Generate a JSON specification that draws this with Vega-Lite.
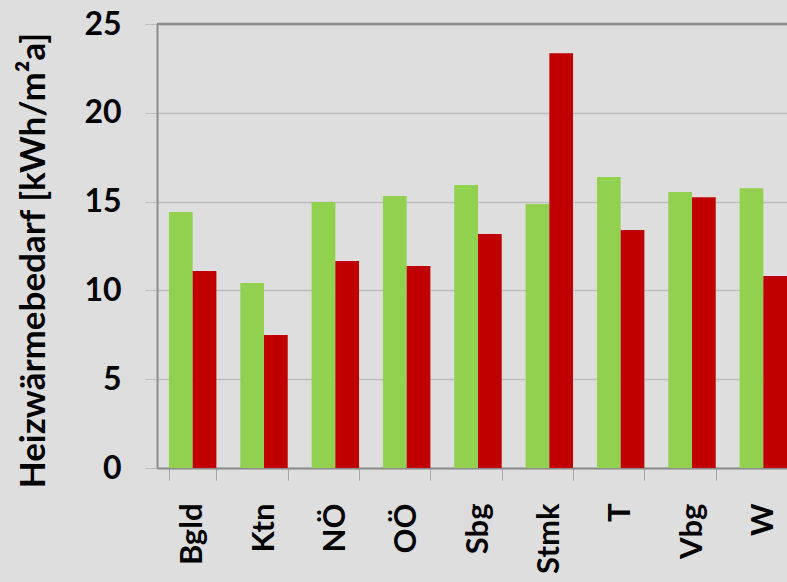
{
  "$schema": "https://vega.github.io/schema/vega-lite/v6.json",
  "width": 630,
  "height": 444,
  "autosize": "none",
  "padding": {"left": 157, "top": 24, "right": 0, "bottom": 114},
  "background": "#dedede",
  "config": {"view": {"stroke": null}, "font": "Lato"},
  "layer": [
    {
      "data": {
        "values": [
          {"region": "Bgld", "series": "Serie 1", "value": 14.41},
          {"region": "Bgld", "series": "Serie 2", "value": 11.09},
          {"region": "Ktn", "series": "Serie 1", "value": 10.42},
          {"region": "Ktn", "series": "Serie 2", "value": 7.49},
          {"region": "NÖ", "series": "Serie 1", "value": 14.98},
          {"region": "NÖ", "series": "Serie 2", "value": 11.66},
          {"region": "OÖ", "series": "Serie 1", "value": 15.32},
          {"region": "OÖ", "series": "Serie 2", "value": 11.37},
          {"region": "Sbg", "series": "Serie 1", "value": 15.93},
          {"region": "Sbg", "series": "Serie 2", "value": 13.18},
          {"region": "Stmk", "series": "Serie 1", "value": 14.86},
          {"region": "Stmk", "series": "Serie 2", "value": 23.35},
          {"region": "T", "series": "Serie 1", "value": 16.38},
          {"region": "T", "series": "Serie 2", "value": 13.4},
          {"region": "Vbg", "series": "Serie 1", "value": 15.54},
          {"region": "Vbg", "series": "Serie 2", "value": 15.24},
          {"region": "W", "series": "Serie 1", "value": 15.75},
          {"region": "W", "series": "Serie 2", "value": 10.81}
        ]
      },
      "mark": {"type": "bar"},
      "encoding": {
        "x": {
          "field": "region",
          "type": "nominal",
          "sort": null,
          "scale": {"paddingInner": 0.335, "paddingOuter": 0.1675, "range": [0, 642]},
          "axis": {
            "title": null,
            "labelAngle": -90,
            "labelAlign": "right",
            "labelBaseline": "middle",
            "labelFont": "Lato",
            "labelFontSize": 31,
            "labelFontWeight": "bold",
            "labelColor": "#000000",
            "labelPadding": 23,
            "tickBand": "extent",
            "tickSize": 12,
            "tickColor": "#a6a6a6",
            "tickWidth": 1,
            "domainColor": "#8c8c8c",
            "domainWidth": 2,
            "grid": false
          }
        },
        "xOffset": {"field": "series", "type": "nominal", "sort": ["Serie 1", "Serie 2"]},
        "y": {
          "field": "value",
          "type": "quantitative",
          "scale": {"domain": [0, 25], "nice": false},
          "axis": {
            "title": "Heizwärmebedarf [kWh/m²a]",
            "titleFont": "Lato",
            "titleFontSize": 35,
            "titleFontWeight": "bold",
            "titleColor": "#000000",
            "titlePadding": 32,
            "titleY": 236,
            "values": [0, 5, 10, 15, 20, 25],
            "labelFont": "Lato",
            "labelFontSize": 32,
            "labelFontWeight": "bold",
            "labelColor": "#000000",
            "labelPadding": 24,
            "tickSize": 12,
            "tickColor": "#bdbdbd",
            "gridColor": "#bdbdbd",
            "gridWidth": 1.5,
            "domainColor": "#8c8c8c",
            "domainWidth": 2
          }
        },
        "color": {
          "field": "series",
          "type": "nominal",
          "scale": {"domain": ["Serie 1", "Serie 2"], "range": ["#92d050", "#c00000"]},
          "legend": null
        }
      }
    },
    {
      "data": {"values": [{"top": 25}]},
      "mark": {"type": "rule", "color": "#8c8c8c", "strokeWidth": 2.5},
      "encoding": {"y": {"field": "top", "type": "quantitative"}}
    }
  ]
}
